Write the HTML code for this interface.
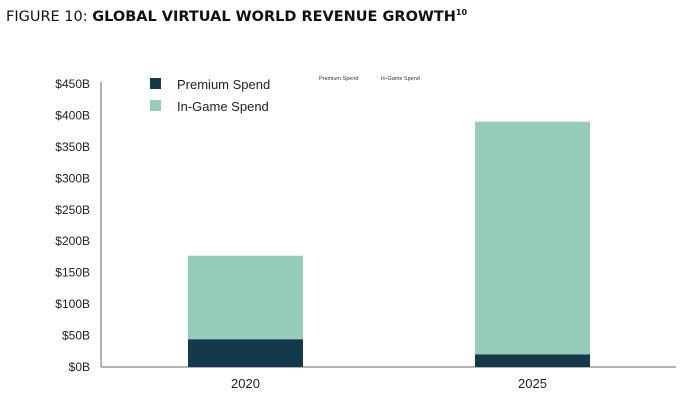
<!DOCTYPE html>
<html><head><meta charset="utf-8"><style>
body{margin:0;background:#fff;width:691px;height:404px;overflow:hidden;font-family:"Liberation Sans",sans-serif}
</style></head><body>
<svg width="691" height="404" id="c">
<text x="6" y="21" font-size="14.5" fill="#111" font-family="DejaVu Sans, sans-serif">FIGURE 10: <tspan font-weight="bold">GLOBAL VIRTUAL WORLD REVENUE GROWTH</tspan><tspan font-size="8" font-weight="bold" dy="-6">10</tspan></text>
<line x1="101" y1="82" x2="101" y2="367" stroke="#666"/>
<line x1="101" y1="367" x2="676" y2="367" stroke="#666"/>
<rect x="150" y="78" width="11" height="11" fill="#14394a"/>
<text x="177" y="89" font-size="13" fill="#222">Premium Spend</text>
<rect x="150" y="100" width="11" height="11" fill="#96ccba"/>
<text x="177" y="111" font-size="13" fill="#222">In-Game Spend</text>
<text x="319" y="80" font-size="5.5" fill="#333">Premium Spend</text>
<text x="381" y="80" font-size="5.5" fill="#333">In-Game Spend</text>
<g id="g"></g>
</svg>
<script>
const categories=["2020","2025"];
const premium=[44,20];
const inGame=[133,370];
const ticks=[0,50,100,150,200,250,300,350,400,450];
const tickLabels=["$0B","$50B","$100B","$150B","$200B","$250B","$300B","$350B","$400B","$450B"];
const y=v=>367-v*(283/450);
const x=i=>188+i*287;
const bw=115;
const g=document.getElementById('g');
const NS="http://www.w3.org/2000/svg";
ticks.forEach((t,i)=>{
 const e=document.createElementNS(NS,'text');
 e.setAttribute('x',90);e.setAttribute('y',y(t)+4);e.setAttribute('text-anchor','end');
 e.setAttribute('font-size','12');e.setAttribute('fill','#222');
 
 
 e.textContent=tickLabels[i];g.appendChild(e);
});
categories.forEach((c,i)=>{
 const a=document.createElementNS(NS,'rect');
 a.setAttribute('x',x(i));a.setAttribute('width',bw);
 a.setAttribute('y',y(premium[i]+inGame[i]));a.setAttribute('height',y(premium[i])-y(premium[i]+inGame[i]));
 a.setAttribute('fill','#96ccba');
 
 
 g.appendChild(a);
 const b=document.createElementNS(NS,'rect');
 b.setAttribute('x',x(i));b.setAttribute('width',bw);
 b.setAttribute('y',y(premium[i]));b.setAttribute('height',y(0)-y(premium[i]));
 b.setAttribute('fill','#14394a');
 
 
 g.appendChild(b);
 const t=document.createElementNS(NS,'text');
 t.setAttribute('x',x(i)+bw/2);t.setAttribute('y',388);t.setAttribute('text-anchor','middle');
 t.setAttribute('font-size','13');t.setAttribute('fill','#222');
 
 
 t.textContent=c;g.appendChild(t);
});
</script>
</body></html>
